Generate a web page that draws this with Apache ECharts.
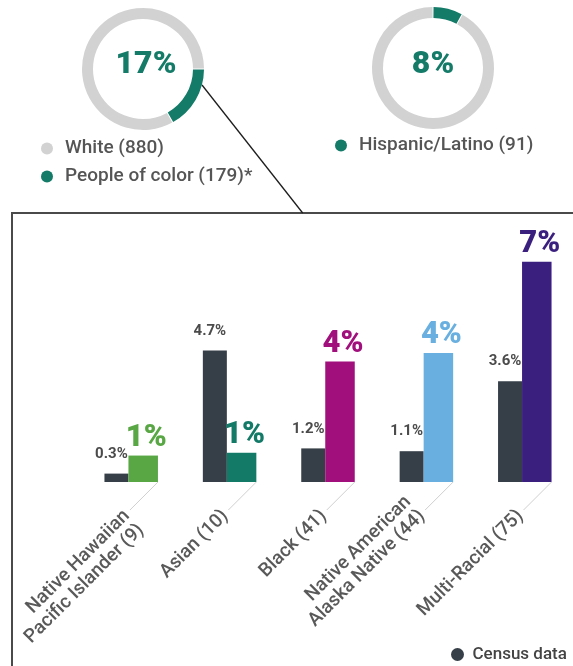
<!DOCTYPE html>
<html>
<head>
<meta charset="utf-8">
<script src="https://cdn.jsdelivr.net/npm/echarts@6/dist/echarts.min.js"></script>
<style>
  html, body { margin: 0; padding: 0; background: #fff; }
  #chart { width: 573px; height: 666px; }
</style>
</head>
<body>
<div id="chart"></div>
<script>
// Respondent counts shown in the two rings
const whiteCount = 880;
const peopleOfColorCount = 179;
const hispanicCount = 91;
const nonHispanicCount = 1059;

// Breakdown of people of color
const categories = [
  'Native Hawaiian\nPacific Islander (9)',
  'Asian (10)',
  'Black (41)',
  'Native American\nAlaska Native (44)',
  'Multi-Racial (75)'
];
const censusShare = [0.3, 4.7, 1.2, 1.1, 3.6];        // % of population, census
const respondentShare = [0.85, 0.94, 3.87, 4.15, 7.08]; // % of respondents

const FONT = 'Roboto';
const TEAL = '#137b68';
const RING_GREY = '#d2d2d2';
const CENSUS = '#363e47';
const groupColors = ['#58a744', '#147a68', '#a10f7c', '#69afdf', '#3a1f7f'];

const whiteName = 'White (' + whiteCount + ')';
const pocName = 'People of color (' + peopleOfColorCount + ')*';
const hispName = 'Hispanic/Latino (' + hispanicCount + ')';
const pocPct = Math.round(peopleOfColorCount / (whiteCount + peopleOfColorCount) * 100);
const hispPct = Math.round(hispanicCount / (hispanicCount + nonHispanicCount) * 100);

// Width of a census bar and a respondent bar; the pair sits on the category centre
const CENSUS_W = 24;
const GROUP_W = 29.5;
const HALF_PAIR = (CENSUS_W + GROUP_W) / 2;
const LEADER = 28;

const chart = echarts.init(document.getElementById('chart'), null, { renderer: 'canvas' });

const ring = {
  type: 'pie',
  radius: [50, 61],
  padAngle: 1,
  silent: true,
  label: { show: false },
  labelLine: { show: false },
  emphasis: { disabled: true }
};

const legendText = { fontFamily: FONT, fontSize: 19, fontWeight: 500, color: '#555' };

chart.setOption({
  animation: false,
  textStyle: { fontFamily: FONT },
  grid: { left: 82, right: -1, top: 258, bottom: 184, containLabel: false, outerBoundsMode: 'none' },
  xAxis: {
    type: 'category',
    data: categories,
    axisLine: { show: false },
    axisTick: { show: false },
    axisLabel: {
      interval: 0,
      rotate: 45,
      margin: 27,
      padding: [0, 6, 0, 0],
      fontSize: 19,
      fontWeight: 500,
      lineHeight: 20,
      color: '#595959',
      hideOverlap: false,
      // the leader line meets the first row of the Hawaiian label and the second row of the Native American one
      formatter: (v, i) => i === 0 ? '\n' + v : (i === 3 ? v + '\n' : v)
    }
  },
  yAxis: [
    { type: 'value', min: 0, max: 8, show: false },
    { type: 'value', min: 0, max: 7.2, show: false }
  ],
  legend: [
    {
      data: [whiteName, pocName],
      orient: 'vertical',
      left: 36, top: 134,
      icon: 'circle', itemWidth: 26, itemHeight: 12, itemGap: 9,
      selectedMode: false,
      textStyle: legendText
    },
    {
      data: [hispName],
      left: 330, top: 131,
      icon: 'circle', itemWidth: 26, itemHeight: 12,
      selectedMode: false,
      textStyle: legendText
    },
    {
      data: ['Census data'],
      left: 446, top: 641,
      icon: 'circle', itemWidth: 20, itemHeight: 13,
      selectedMode: false,
      textStyle: { fontFamily: FONT, fontSize: 17, fontWeight: 500, color: '#444' }
    }
  ],
  graphic: [
    {
      type: 'rect', z: -1, silent: true,
      shape: { x: 12, y: 213, width: 620, height: 520 },
      style: { fill: 'none', stroke: '#4a4a4a', lineWidth: 2 }
    },
    {
      type: 'line', silent: true,
      shape: { x1: 202, y1: 85, x2: 302.7, y2: 213 },
      style: { stroke: '#1e1e1e', lineWidth: 1.3 }
    },
    {
      type: 'text', silent: true, x: 146, y: 65,
      style: { text: pocPct + '%', fill: TEAL, font: '900 32px ' + FONT, textAlign: 'center', textVerticalAlign: 'middle' }
    },
    {
      type: 'text', silent: true, x: 433, y: 65,
      style: { text: hispPct + '%', fill: TEAL, font: '900 32px ' + FONT, textAlign: 'center', textVerticalAlign: 'middle' }
    }
  ],
  series: [
    Object.assign({}, ring, {
      name: 'Race',
      center: [143, 69],
      startAngle: 0,
      data: [
        { name: pocName, value: peopleOfColorCount, itemStyle: { color: TEAL } },
        { name: whiteName, value: whiteCount, itemStyle: { color: RING_GREY } }
      ]
    }),
    Object.assign({}, ring, {
      name: 'Ethnicity',
      center: [433, 68],
      startAngle: 90,
      data: [
        { name: hispName, value: hispanicCount, itemStyle: { color: TEAL } },
        { name: 'Not Hispanic/Latino', value: nonHispanicCount, itemStyle: { color: RING_GREY } }
      ]
    }),
    {
      name: 'Census data',
      type: 'bar',
      yAxisIndex: 0,
      barWidth: CENSUS_W,
      barGap: '0%',
      itemStyle: { color: CENSUS },
      silent: true,
      data: censusShare,
      label: {
        show: true,
        position: 'top',
        distance: 12,
        offset: [-5, 0],
        fontFamily: FONT,
        fontSize: 15,
        fontWeight: 'bold',
        color: '#4b4b4b',
        formatter: p => p.value.toFixed(1) + '%'
      }
    },
    {
      name: 'Respondents',
      type: 'bar',
      yAxisIndex: 1,
      barWidth: GROUP_W,
      barGap: '0%',
      silent: true,
      data: respondentShare.map((v, i) => ({
        value: v,
        itemStyle: { color: groupColors[i] },
        label: { color: groupColors[i] }
      })),
      label: {
        show: true,
        position: 'top',
        distance: 2,
        offset: [3, 0],
        fontFamily: FONT,
        fontSize: 31,
        fontWeight: 900,
        formatter: p => Math.round(p.value) + '%'
      }
    },
    {
      // thin leader from each label up to the outer corner of its bar pair
      name: 'Leaders',
      type: 'custom',
      silent: true,
      data: categories.map((c, i) => [i, 0]),
      renderItem: (params, api) => {
        const p = api.coord([api.value(0), 0]);
        const x = p[0] + HALF_PAIR;
        const y = p[1];
        return {
          type: 'line',
          shape: { x1: x, y1: y, x2: x - LEADER, y2: y + LEADER },
          style: { stroke: '#cfcfcf', lineWidth: 1 }
        };
      }
    }
  ]
});
</script>
</body>
</html>
